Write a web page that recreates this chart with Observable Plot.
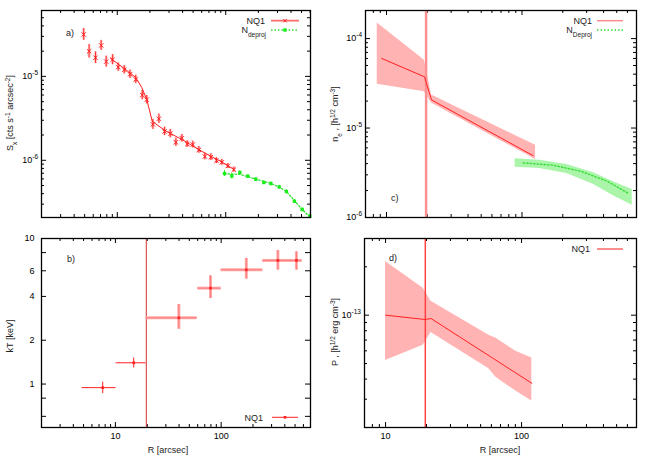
<!DOCTYPE html>
<html><head><meta charset="utf-8">
<script src="https://cdn.jsdelivr.net/npm/d3@7"></script>
<script src="https://cdn.jsdelivr.net/npm/@observablehq/plot@0.6"></script>
<style>
body{margin:0;background:#fff;}
#root{position:relative;width:650px;height:455px;background:#fff;font-family:"Liberation Sans",Arial,sans-serif;}
.panel{position:absolute;}
#overlay{position:absolute;left:0;top:0;pointer-events:none;}
</style></head><body><div id="root"></div>
<script>
// ---------- Panel a: surface brightness ----------
const aR = [4.9,5.5,6.3,7.1,7.9,9.05,10.2,11.6,13.1,14.8,17.0,18.7,21.3,24.2,27.3,30.8,34.7,39.4,44.2,49.7,56.5,64.2,72.9,82.2,92.0,104.5,118.8];
const aS = [3.16e-5,1.99e-5,1.67e-5,2.34e-5,1.50e-5,1.58e-5,1.29e-5,1.20e-5,1.06e-5,9.2e-6,5.99e-6,5.28e-6,2.68e-6,3.13e-6,2.21e-6,2.08e-6,1.64e-6,1.83e-6,1.56e-6,1.54e-6,1.33e-6,1.11e-6,1.09e-6,9.9e-7,9.46e-7,8.55e-7,7.74e-7];
const aErrDex = [0.07,0.08,0.07,0.06,0.065,0.06,0.05,0.05,0.05,0.05,0.055,0.05,0.06,0.055,0.05,0.05,0.05,0.045,0.04,0.04,0.04,0.04,0.04,0.035,0.035,0.03,0.03];
const aModelR = [8.67,11.4,14.8,16.8,18.8,21.0,27.9,39.7,56.5,72.4,91.5,118.8];
const aModelS = [1.64e-5,1.26e-5,9.7e-6,7.4e-6,5.18e-6,2.91e-6,2.24e-6,1.76e-6,1.34e-6,1.12e-6,9.6e-7,7.8e-7];
const gR = [97.5,113.8,134.9,159.9,189.4,224.4,260.4,311,363,430,507,596];
const gS = [6.95e-7,6.5e-7,7.15e-7,6.45e-7,5.94e-7,5.43e-7,5.28e-7,4.81e-7,4.24e-7,3.25e-7,2.59e-7,2.16e-7];
const gErrDex = [0.035,0.035,0.02,0.02,0.02,0.02,0.02,0.02,0.02,0.02,0.02,0.02];
const gModelR = [97.5,135,190,260,311,363,430,507,600];
const gModelS = [6.9e-7,6.8e-7,5.95e-7,5.3e-7,4.8e-7,4.25e-7,3.3e-7,2.6e-7,2.1e-7];

// ---------- Panel b: temperature ----------
const bR   = [7.59,14.9,39.8,79.3,173,344,515];
const bRlo = [4.84,10.15,19.5,60.1,100,248,486];
const bRhi = [10.15,19.5,59.3,100,248,486,583];
const bT   = [0.945,1.40,2.85,4.56,6.09,7.07,7.07];
const bTlo = [0.86,1.29,2.38,3.87,5.26,6.06,6.06];
const bThi = [1.03,1.51,3.52,5.54,7.3,8.28,8.1];
const bWide = [false,false,true,true,true,true,true];

// ---------- Panel c: density ----------
const cBandR  = [8.55,19.05,21.5,126];
const cBandHi = [1.49e-4,5.74e-5,2.34e-5,6.41e-6];
const cBandLo = [3.08e-5,2.55e-5,1.90e-5,4.45e-6];
const cLineR  = [9.22,19.05,21.5,120.7];
const cLineN  = [6.0e-5,3.74e-5,2.06e-5,4.92e-6];
const cGBandR  = [89,135,214,338,476,651];
const cGBandHi = [4.53e-6,4.37e-6,3.91e-6,3.16e-6,2.49e-6,2.06e-6];
const cGBandLo = [3.65e-6,3.52e-6,3.1e-6,2.34e-6,1.74e-6,1.37e-6];
const cGLineR = [102,170,269,425,615];
const cGLineN = [4.08e-6,3.84e-6,3.3e-6,2.55e-6,1.85e-6];

// ---------- Panel d: pressure ----------
const dBandR  = [10,18.9,21.6,57.5,64.5,90.7,119];
const dBandHi = [2.16e-13,1.47e-13,1.22e-13,7.5e-14,7.2e-14,5.96e-14,5.41e-14];
const dBandLo = [5.23e-14,6.5e-14,7.8e-14,4.64e-14,4.12e-14,3.37e-14,2.92e-14];
const dLineR  = [10,19.5,21.6,119];
const dLineP  = [1e-13,9.4e-14,9.53e-14,3.77e-14];

const cutR = 19.6;

// ---------- ticks ----------
const xMinorAB = [3,4,5,6,7,8,9,20,30,40,50,60,70,80,90,200,300,400,500,600];
const xMinorCD = [8,9,20,30,40,50,60,70,80,90,200,300,400,500,600];
const xMajor = [10,100];
const xLabels = [10,100];
const aYMajor = [1e-6,1e-5];
const aYMinor = [3e-7,4e-7,5e-7,6e-7,7e-7,8e-7,9e-7,2e-6,3e-6,4e-6,5e-6,6e-6,7e-6,8e-6,9e-6,2e-5,3e-5,4e-5,5e-5];
const aYLabelText = ["10^-6","10^-5"];
const bYTicks = [0.6,0.8,1,2,4,6,8,10];
const bYLabels = [1,2,4,6,8,10];
const cYMajor = [1e-6,1e-5,1e-4];
const cYMinor = [2e-6,3e-6,4e-6,5e-6,6e-6,7e-6,8e-6,9e-6,2e-5,3e-5,4e-5,5e-5,6e-5,7e-5,8e-5,9e-5];
const cYLabelText = ["10^-6","10^-5","10^-4"];
const dYMajor = [1e-13];
const dYMinor = [3e-14,4e-14,5e-14,6e-14,7e-14,8e-14,9e-14,2e-13];
const dYLabelText = ["10^-13"];

const red = "#ff2020", pinkBar = "#ffbcbc", pinkFill = "#ffb3b3", green = "#18ee18", greenFill = "#aaf5aa", greenLine = "#33dd33";
const style = {fontFamily: '"Liberation Sans", Arial, sans-serif', fontSize: "9px", background: "transparent", overflow: "visible"};

// inward ticks on all four sides (gnuplot style), built with the library's tick marks
function tickMarks(W, H, xMaj, xMin, yMaj, yMin) {
  const m = [];
  const st = {stroke: "black", strokeWidth: 1};
  const sets = [[xMaj, 5], [xMin, 3]];
  for (const [t, L] of sets) {
    m.push(Plot.tickX(t, {x: d => d, insetTop: H - L, ...st}));
    m.push(Plot.tickX(t, {x: d => d, insetBottom: H - L, ...st}));
  }
  const ysets = [[yMaj, 5]]; if (yMin) ysets.push([yMin, 3]);
  for (const [t, L] of ysets) {
    m.push(Plot.tickY(t, {y: d => d, insetRight: W - L, ...st}));
    m.push(Plot.tickY(t, {y: d => d, insetLeft: W - L, ...st}));
  }
  return m;
}
function lookupFmt(vals, texts) { const mp = new Map(vals.map((v, i) => [v, texts[i]])); return d => mp.get(d) ?? ""; }

function supify(svg) {
  const ns = "http://www.w3.org/2000/svg";
  svg.querySelectorAll("text").forEach(t => {
    const s = t.textContent;
    if (s.includes("^") && t.children.length === 0) {
      const [b, e] = s.split("^");
      t.textContent = "";
      const t1 = document.createElementNS(ns, "tspan"); t1.textContent = b; t.appendChild(t1);
      const t2 = document.createElementNS(ns, "tspan"); t2.setAttribute("dy", "-4"); t2.setAttribute("font-size", "6.5"); t2.textContent = e; t.appendChild(t2);
    }
  });
}
function place(svg, left, top) {
  const d = document.createElement("div");
  d.className = "panel"; d.style.left = left + "px"; d.style.top = top + "px";
  supify(svg);
  d.appendChild(svg);
  document.getElementById("root").appendChild(d);
}

// ---------- build panel a ----------
const aPts = aR.map((r, i) => ({r, s: aS[i], lo: aS[i] / 10 ** aErrDex[i], hi: aS[i] * 10 ** aErrDex[i]}));
const gPts = gR.map((r, i) => ({r, s: gS[i], lo: gS[i] / 10 ** gErrDex[i], hi: gS[i] * 10 ** gErrDex[i]}));
const aModel = aModelR.map((r, i) => ({r, s: aModelS[i]}));
const gModel = gModelR.map((r, i) => ({r, s: gModelS[i]}));
place(Plot.plot({
  width: 325, height: 225, marginLeft: 41, marginRight: 15, marginTop: 10, marginBottom: 8,
  style,
  x: {type: "log", domain: [2, 605], label: null, axis: null},
  y: {type: "log", domain: [2.08e-7, 6.1e-5], label: null},
  marks: [
    ...tickMarks(269, 207, xMajor, xMinorAB, aYMajor, aYMinor),
    Plot.axisY({anchor: "left", ticks: aYMajor, tickSize: 0, tickPadding: 3.5, tickFormat: lookupFmt(aYMajor, aYLabelText), label: null}),
    Plot.line(gModel, {x: "r", y: "s", stroke: greenLine, strokeWidth: 1.3, strokeDasharray: "1.5,2"}),
    Plot.ruleX(gPts, {x: "r", y1: "lo", y2: "hi", stroke: green, strokeWidth: 1}),
    Plot.dot(gPts, {x: "r", y: "s", symbol: "square", r: 1.9, fill: green, stroke: null}),
    Plot.ruleX(aPts, {x: "r", y1: "lo", y2: "hi", stroke: pinkBar, strokeWidth: 2.5}),
    Plot.ruleX(aPts, {x: "r", y1: "lo", y2: "hi", stroke: red, strokeWidth: 0.9}),
    Plot.line(aModel, {x: "r", y: "s", stroke: red, strokeWidth: 1}),
    Plot.dot(aPts, {x: "r", y: "s", symbol: "times", r: 2.1, stroke: red, strokeWidth: 1}),
    Plot.frame({stroke: "black", strokeWidth: 1.3})
  ]
}), 0, 0);

// ---------- build panel b ----------
const bPts = bR.map((r, i) => ({r, rlo: bRlo[i], rhi: bRhi[i], t: bT[i], tlo: bTlo[i], thi: bThi[i], wide: bWide[i]}));
const bWidePts = bPts.filter(d => d.wide);
const bThinPts = bPts.filter(d => !d.wide);
place(Plot.plot({
  width: 325, height: 230, marginLeft: 41, marginRight: 15, marginTop: 13, marginBottom: 28,
  style,
  x: {type: "log", domain: [2, 700], label: null},
  y: {type: "log", domain: [0.503, 10], label: null},
  marks: [
    ...tickMarks(269, 189, xMajor, xMinorAB, bYTicks, null),
    Plot.axisX({anchor: "bottom", ticks: xLabels, tickSize: 0, tickPadding: 5, tickFormat: d => String(d), label: null}),
    Plot.axisY({anchor: "left", ticks: bYLabels, tickSize: 0, tickPadding: 7, tickFormat: d => String(d), label: null}),
    Plot.ruleX([cutR], {stroke: "#d83030", strokeWidth: 1}),
    Plot.ruleX(bWidePts, {x: "r", y1: "tlo", y2: "thi", stroke: "#ffaaaa", strokeWidth: 3}),
    Plot.ruleY(bWidePts, {y: "t", x1: "rlo", x2: "rhi", stroke: "#ffaaaa", strokeWidth: 3}),
    Plot.ruleX(bWidePts, {x: "r", y1: "tlo", y2: "thi", stroke: "#ff7070", strokeWidth: 0.8}),
    Plot.ruleY(bWidePts, {y: "t", x1: "rlo", x2: "rhi", stroke: "#ff7070", strokeWidth: 0.8}),
    Plot.ruleX(bThinPts, {x: "r", y1: "tlo", y2: "thi", stroke: red, strokeWidth: 1}),
    Plot.ruleY(bThinPts, {y: "t", x1: "rlo", x2: "rhi", stroke: red, strokeWidth: 1}),
    Plot.dot(bPts, {x: "r", y: "t", symbol: "square", r: 1.5, fill: red, stroke: null}),
    Plot.frame({stroke: "black", strokeWidth: 1.3})
  ]
}), 0, 225);

// ---------- build panel c ----------
const cBand = cBandR.map((r, i) => ({r, hi: cBandHi[i], lo: cBandLo[i]}));
const cLine = cLineR.map((r, i) => ({r, n: cLineN[i]}));
const cGBand = cGBandR.map((r, i) => ({r, hi: cGBandHi[i], lo: cGBandLo[i]}));
const cGLine = cGLineR.map((r, i) => ({r, n: cGLineN[i]}));
place(Plot.plot({
  width: 325, height: 225, marginLeft: 40, marginRight: 14, marginTop: 10, marginBottom: 8,
  style,
  x: {type: "log", domain: [7, 700], label: null, axis: null},
  y: {type: "log", domain: [1e-6, 2.06e-4], label: null},
  marks: [
    Plot.areaY(cBand, {x: "r", y1: "lo", y2: "hi", fill: pinkFill}),
    Plot.areaY(cGBand, {x: "r", y1: "lo", y2: "hi", fill: greenFill}),
    ...tickMarks(271, 207, xMajor, xMinorCD, cYMajor, cYMinor),
    Plot.axisY({anchor: "left", ticks: cYMajor, tickSize: 0, tickPadding: 3.5, tickFormat: lookupFmt(cYMajor, cYLabelText), label: null}),
    Plot.ruleX([cutR], {stroke: "#ff9090", strokeWidth: 2.5}),
    Plot.line(cLine, {x: "r", y: "n", stroke: red, strokeWidth: 1}),
    Plot.line(cGLine, {x: "r", y: "n", stroke: greenLine, strokeWidth: 1.3, strokeDasharray: "1.5,2"}),
    Plot.frame({stroke: "black", strokeWidth: 1.3})
  ]
}), 325, 0);

// ---------- build panel d ----------
const dBand = dBandR.map((r, i) => ({r, hi: dBandHi[i], lo: dBandLo[i]}));
const dLine = dLineR.map((r, i) => ({r, p: dLineP[i]}));
place(Plot.plot({
  width: 325, height: 230, marginLeft: 39, marginRight: 14, marginTop: 13, marginBottom: 28,
  style,
  x: {type: "log", domain: [7, 700], label: null},
  y: {type: "log", domain: [2e-14, 3e-13], label: null},
  marks: [
    Plot.areaY(dBand, {x: "r", y1: "lo", y2: "hi", fill: pinkFill}),
    ...tickMarks(272, 189, xMajor, xMinorCD, dYMajor, dYMinor),
    Plot.axisX({anchor: "bottom", ticks: xLabels, tickSize: 0, tickPadding: 5, tickFormat: d => String(d), label: null}),
    Plot.axisY({anchor: "left", ticks: dYMajor, tickSize: 0, tickPadding: 3.5, tickFormat: lookupFmt(dYMajor, dYLabelText), label: null}),
    Plot.ruleX([cutR], {stroke: "#ff4040", strokeWidth: 1.5}),
    Plot.line(dLine, {x: "r", y: "p", stroke: red, strokeWidth: 1}),
    Plot.frame({stroke: "black", strokeWidth: 1.3})
  ]
}), 325, 225);

// ---------- overlay: labels and legends ----------
const sup = s => `<tspan baseline-shift="super" font-size="6.5">${s}</tspan>`;
const sub = s => `<tspan baseline-shift="sub" font-size="6.5">${s}</tspan>`;
const ov = `
<svg id="overlay" width="650" height="455" xmlns="http://www.w3.org/2000/svg" font-family='"Liberation Sans", Arial, sans-serif' font-size="9" fill="#222">
  <text transform="translate(13,113) rotate(-90)" text-anchor="middle">S${sub("x")} [cts s${sup("-1")} arcsec${sup("-2")}]</text>
  <text transform="translate(13,336) rotate(-90)" text-anchor="middle">kT [keV]</text>
  <text transform="translate(338,114) rotate(-90)" text-anchor="middle">n${sub("e")} , [h${sup("1/2")} cm${sup("-3")}]</text>
  <text transform="translate(338,332) rotate(-90)" text-anchor="middle">P , [h${sup("1/2")} erg cm${sup("-3")}]</text>
  <text x="168" y="453" text-anchor="middle">R [arcsec]</text>
  <text x="500" y="453" text-anchor="middle">R [arcsec]</text>
  <text x="66" y="35.5">a)</text>
  <text x="67" y="261.5">b)</text>
  <text x="391" y="201">c)</text>
  <text x="389" y="261">d)</text>

  <text x="265" y="24" text-anchor="end">NQ1</text>
  <line x1="271" x2="299" y1="20.7" y2="20.7" stroke="${pinkBar}" stroke-width="2.5"/>
  <line x1="271" x2="299" y1="20.7" y2="20.7" stroke="${red}" stroke-width="0.6"/>
  <path d="M283.3,19L286.7,22.4M283.3,22.4L286.7,19" stroke="${red}" stroke-width="1"/>
  <text x="266" y="33" text-anchor="end">N${sub("deproj")}</text>
  <line x1="271" x2="299" y1="30" y2="30" stroke="${greenLine}" stroke-width="1.3" stroke-dasharray="1.5,2"/>
  <rect x="283.3" y="28.3" width="3.4" height="3.4" fill="${green}"/>

  <text x="263" y="420.5" text-anchor="end">NQ1</text>
  <line x1="272" x2="298" y1="417.3" y2="417.3" stroke="${red}" stroke-width="1"/>
  <rect x="283.7" y="416" width="2.6" height="2.6" fill="${red}"/>

  <text x="592" y="24" text-anchor="end">NQ1</text>
  <line x1="597" x2="623" y1="20.7" y2="20.7" stroke="#ff8c8c" stroke-width="1.5"/>
  <text x="592" y="33" text-anchor="end">N${sub("Deproj")}</text>
  <line x1="597" x2="623" y1="30" y2="30" stroke="${greenLine}" stroke-width="1.3" stroke-dasharray="1.5,2"/>

  <text x="590" y="252" text-anchor="end">NQ1</text>
  <line x1="597" x2="623" y1="249" y2="249" stroke="${red}" stroke-width="1"/>
</svg>`;
document.getElementById("root").insertAdjacentHTML("beforeend", ov);
</script></body></html>
